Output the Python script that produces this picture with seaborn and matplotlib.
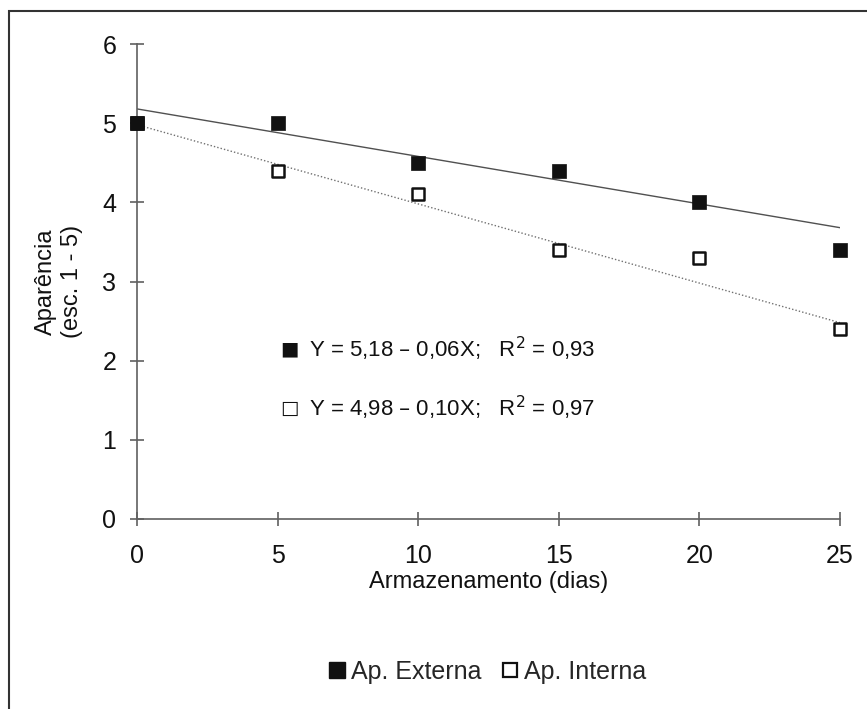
import numpy as np
import pandas as pd
import matplotlib
matplotlib.use('Agg')
import matplotlib.pyplot as plt
import seaborn as sns
from matplotlib.lines import Line2D
from matplotlib.patches import Rectangle

# Data
dias = [0, 5, 10, 15, 20, 25]
ap_externa = [5.0, 5.0, 4.5, 4.4, 4.0, 3.4]
ap_interna = [5.0, 4.4, 4.1, 3.4, 3.3, 2.4]
series_names = ['Ap. Externa', 'Ap. Interna']
# fitted equations shown on the chart
intercepts = [5.18, 4.98]
slopes = [-0.06, -0.10]
eq_labels = ['Y = 5,18 \u2013 0,06X;   R$^2$ = 0,93',
             'Y = 4,98 \u2013 0,10X;   R$^2$ = 0,97']
y_ticks = [0, 1, 2, 3, 4, 5, 6]
x_ticks = [0, 5, 10, 15, 20, 25]

sns.set_theme(style="white")
plt.rcParams['font.family'] = ['Liberation Sans', 'DejaVu Sans']

df = pd.DataFrame({'dias': dias, 'Ap. Externa': ap_externa, 'Ap. Interna': ap_interna})
x_arr = np.array(dias, dtype=float)
fit = pd.DataFrame({'dias': x_arr,
                    'ext': intercepts[0] + slopes[0] * x_arr,
                    'int': intercepts[1] + slopes[1] * x_arr})

fig = plt.figure(figsize=(8.67, 7.09), dpi=100)
ax = fig.add_axes([137 / 867, 1 - 519 / 709, (840 - 137) / 867, (519 - 44) / 709])

axis_col = '#606060'
txt_col = '#111111'
# trend lines
sns.lineplot(data=fit, x='dias', y='ext', ax=ax, color='#505050', lw=1.0, ls='-')
sns.lineplot(data=fit, x='dias', y='int', ax=ax, color='#707070', lw=1.0, ls=(0, (1, 1.5)))
# points
sns.scatterplot(data=df, x='dias', y='Ap. Interna', marker='s', s=64, color='white',
                edgecolor='#111111', linewidth=1.8, ax=ax, zorder=3, clip_on=False)
sns.scatterplot(data=df, x='dias', y='Ap. Externa', marker='s', s=92, color='#111111',
                edgecolor='#111111', linewidth=0.5, ax=ax, zorder=4, clip_on=False)

ax.set_xlim(0, 25)
ax.set_ylim(0, 6)
ax.set_xticks(x_ticks)
ax.set_yticks(y_ticks)
ax.set_xlabel('Armazenamento (dias)', fontsize=17, labelpad=2, color=txt_col)
ax.set_ylabel('Aparência\n(esc. 1 - 5)', fontsize=17, labelpad=14, color=txt_col,
              linespacing=1.2)
sns.despine(ax=ax)
for s in ['left', 'bottom']:
    ax.spines[s].set_color(axis_col)
    ax.spines[s].set_linewidth(1.2)
ax.tick_params(axis='both', direction='inout', length=10, width=1.2, color=axis_col,
               labelsize=18, labelcolor=txt_col, left=True, bottom=True)
ax.tick_params(axis='y', pad=10)
ax.tick_params(axis='x', pad=13)
for sp in ax.spines.values():
    sp.set_clip_on(False)

# equation annotations (symbol + text)
for yv, sym, lab in [(2.15, '\u25a0', eq_labels[0]), (1.4, '\u25a1', eq_labels[1])]:
    ax.text(5.1, yv, sym, fontsize=14, va='center', ha='left', color=txt_col,
            family=['DejaVu Sans'])
    ax.text(6.1, yv, lab, fontsize=16, va='center', ha='left', color=txt_col)

# legend
handles = [Line2D([], [], marker='s', ls='none', color='#111111', markersize=11.5,
                  markeredgecolor='#111111'),
           Line2D([], [], marker='s', ls='none', markerfacecolor='white', markersize=10,
                  markeredgecolor='#111111', markeredgewidth=1.6)]
fig.legend(handles, series_names, loc='center', bbox_to_anchor=(486 / 867, 1 - 672 / 709),
           ncol=2, frameon=False, fontsize=18, handletextpad=0.1, columnspacing=0.7,
           handlelength=0.9)

# figure border (only top and left visible in the reference)
fig.patches.append(Rectangle((9 / 867, -0.05), 1.2, 1 - 11 / 709 + 0.05,
                             transform=fig.transFigure, fill=False,
                             edgecolor='#333333', lw=1.5))

fig.savefig('out.png', dpi=100)
